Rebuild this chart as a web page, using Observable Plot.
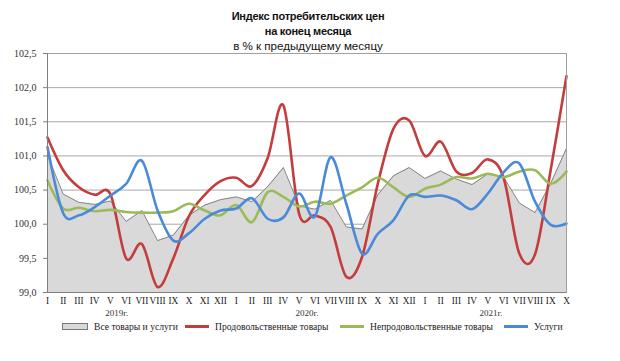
<!DOCTYPE html>
<html>
<head>
<meta charset="utf-8">
<script src="https://cdn.jsdelivr.net/npm/d3@7"></script>
<script src="https://cdn.jsdelivr.net/npm/@observablehq/plot@0.6"></script>
<style>
  body { margin: 0; background: #fff; }
  #wrap { position: relative; width: 620px; height: 361px; overflow: hidden; }
  #title { position: absolute; left: 0; top: 9px; width: 616px; text-align: center; font-family: "Liberation Sans", Arial, sans-serif; color: #111; }
  #title .b { font-weight: bold; font-size: 11px; line-height: 15px; letter-spacing: -0.25px; }
  #title .n { font-size: 11.6px; line-height: 14px; }
  .leg { position: absolute; top: 321px; font-family: "Liberation Serif", "Times New Roman", serif; font-size: 9.6px; color: #222; display: flex; align-items: center; white-space: nowrap; }
  .sw { display: inline-block; width: 24px; margin-right: 6px; }
</style>
</head>
<body>
<div id="wrap">
  <div id="chart"></div>
  <div id="title">
    <div class="b">Индекс потребительских цен</div>
    <div class="b">на конец месяца</div>
    <div class="n">в % к предыдущему месяцу</div>
  </div>
  <div id="legend"></div>
</div>
<script>
const months = ["I","II","III","IV","V","VI","VII","VIII","IX","X","XI","XII",
                "I","II","III","IV","V","VI","VII","VIII","IX","X","XI","XII",
                "I","II","III","IV","V","VI","VII","VIII","IX","X"];
const years = ["2019г.", "2020г.", "2021г."];
const seriesNames = ["Все товары и услуги", "Продовольственные товары", "Непродовольственные товары", "Услуги"];

const allGoods = [101.01,100.44,100.32,100.29,100.34,100.04,100.20,99.76,99.84,100.13,100.28,100.36,
                  100.40,100.33,100.55,100.83,100.27,100.22,100.35,99.96,99.93,100.43,100.71,100.83,
                  100.67,100.78,100.66,100.58,100.74,100.69,100.31,100.17,100.60,101.11];
const food = [101.27,100.79,100.54,100.43,100.44,99.50,99.71,99.08,99.50,100.12,100.43,100.63,
              100.68,100.56,100.97,101.74,100.15,100.13,99.96,99.23,99.52,100.59,101.40,101.52,
              101.00,101.21,100.77,100.75,100.95,100.68,99.57,99.56,100.80,102.17];
const nonFood = [100.64,100.23,100.24,100.19,100.21,100.18,100.17,100.17,100.19,100.30,100.20,100.13,
                 100.28,100.03,100.47,100.40,100.26,100.33,100.30,100.42,100.54,100.68,100.54,100.40,
                 100.52,100.58,100.69,100.67,100.74,100.69,100.77,100.79,100.59,100.77];
const services = [101.13,100.16,100.13,100.25,100.42,100.59,100.93,100.20,99.76,99.87,100.08,100.20,
                  100.23,100.38,100.08,100.10,100.45,100.11,100.98,100.30,99.57,99.86,100.06,100.42,
                  100.40,100.42,100.35,100.22,100.45,100.76,100.89,100.33,99.99,100.01];

const colors = {food: "#c43d3d", nonFood: "#9bbb59", services: "#4a8ad8"};

const table = months.map((m, i) => ({i, m, all: allGoods[i], food: food[i], nonFood: nonFood[i], services: services[i]}));
const yearRows = years.map((label, k) => ({label, k}));
const yearPos = [4.4, 16.5, 28.2];

const fmt = v => v.toFixed(1).replace(".", ",");
const yTicks = d3.range(99, 102.51, 0.5);

const chart = Plot.plot({
  width: 620,
  height: 320,
  marginTop: 53,
  marginLeft: 47,
  marginRight: 54,
  marginBottom: 28,
  x: {domain: [0, 33], label: null},
  y: {domain: [99, 102.5], label: null},
  style: {fontFamily: "'Liberation Serif', 'Times New Roman', serif", fontSize: "10px", background: "transparent", color: "#333"},
  marks: [
    Plot.gridY(yTicks, {stroke: "#a8a8a8", strokeOpacity: 1}),
    Plot.areaY(table, {x: "i", y1: 99, y2: "all", fill: "#d9d9d9"}),
    Plot.line(table, {x: "i", y: "all", stroke: "#7a7a7a", strokeWidth: 0.9}),
    Plot.line(table, {x: "i", y: "food", stroke: colors.food, strokeWidth: 2.6, curve: "cardinal"}),
    Plot.line(table, {x: "i", y: "nonFood", stroke: colors.nonFood, strokeWidth: 2.6, curve: "cardinal"}),
    Plot.line(table, {x: "i", y: "services", stroke: colors.services, strokeWidth: 2.6, curve: "cardinal"}),
    Plot.frame({stroke: "#a0a0a0"}),
    Plot.ruleY([99], {stroke: "#808080"}),
    Plot.ruleX([0], {stroke: "#808080"}),
    Plot.axisY({ticks: yTicks, tickFormat: fmt, tickSize: 4, tickPadding: 7, stroke: "#808080", fill: "#333"}),
    Plot.axisX({ticks: d3.range(34), tickFormat: i => months[i], tickSize: 0, tickPadding: 5, fill: "#222", fontSize: 9.3}),
    Plot.text(yearRows, {x: (d) => yearPos[d.k], y: 99, text: "label", dy: 21, fill: "#333", fontSize: 9})
  ]
});
document.getElementById("chart").appendChild(chart);

const legend = document.getElementById("legend");
const legendLeft = [62, 185, 340, 504];
const swatches = [
  `<span class="sw" style="height:5px;background:#d9d9d9;border:1px solid #777;"></span>`,
  `<span class="sw" style="height:2.5px;background:${colors.food};"></span>`,
  `<span class="sw" style="height:2.5px;background:${colors.nonFood};"></span>`,
  `<span class="sw" style="height:2.5px;background:${colors.services};"></span>`
];
seriesNames.forEach((name, k) => {
  const d = document.createElement("div");
  d.className = "leg";
  d.style.left = legendLeft[k] + "px";
  d.innerHTML = swatches[k] + `<span>${name}</span>`;
  legend.appendChild(d);
});
</script>
</body>
</html>
